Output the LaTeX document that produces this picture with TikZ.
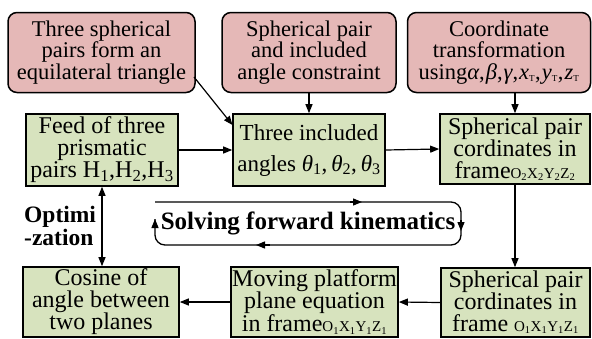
\documentclass[tikz,border=0pt]{standalone}
\usepackage{fontspec}
\setmainfont{Liberation Serif}
\usetikzlibrary{arrows.meta,calc}
\definecolor{pinkc}{RGB}{229,184,183}
\definecolor{greenc}{RGB}{215,227,190}
\newcommand{\frm}[1]{{\fontsize{15}{15}\selectfont O\textsubscript{#1}X\textsubscript{#1}Y\textsubscript{#1}Z\textsubscript{#1}}}
\begin{document}
\begin{tikzpicture}[x=1pt,y=-1pt,
  pinkbox/.style={draw, line width=1.5pt, rounded corners=9pt, fill=pinkc, align=center, inner sep=0pt, minimum height=80pt, font=\fontsize{22.5}{21.5}\selectfont},
  greenbox/.style={draw, line width=1.6pt, fill=greenc, align=center, inner sep=0pt, font=\fontsize{24}{22}\selectfont},
  arr/.style={-{Triangle[length=9pt,width=7pt]}, line width=1.2pt},
  tip/.style={-{Triangle[length=9pt,width=7pt]}, line width=1.3pt},
  loopline/.style={line width=1.3pt, rounded corners=10pt},
  boldlabel/.style={font=\fontsize{25}{23.5}\selectfont\bfseries, inner sep=0pt},
  optlabel/.style={font=\fontsize{23.5}{23.5}\selectfont\bfseries, inner sep=0pt}
]
\useasboundingbox (0,0) rectangle (592,338);

% top pink boxes
\node[pinkbox, minimum width=187pt] (A) at (101.5,52.5) {Three spherical\\pairs form an\\equilateral triangle};
\node[pinkbox, minimum width=174pt] (B) at (309,52.5) {Spherical pair\\and included\\angle constraint};
\node[pinkbox, minimum width=183pt] (C) at (499,52.5) {Coordinate\\transformation\\using\textit{α},\kern1pt\textit{β},\kern1pt\textit{γ},\kern1pt\textit{x}{\fontsize{13}{13}\selectfont\textsubscript{T}},\kern1pt\textit{y}{\fontsize{13}{13}\selectfont\textsubscript{T}},\kern1pt\textit{z}{\fontsize{13}{13}\selectfont\textsubscript{T}}};

% middle green boxes
\node[greenbox, minimum width=152pt, minimum height=72pt] (F) at (102,150) {Feed of three\\prismatic\\pairs H\textsubscript{1},H\textsubscript{2},H\textsubscript{3}};
\node[greenbox, minimum width=152pt, minimum height=72pt, font=\fontsize{23}{22}\selectfont] (T) at (309,150) {Three included\\[9pt]angles \textit{θ}\textsubscript{1},\,\textit{θ}\textsubscript{2},\,\textit{θ}\textsubscript{3}};
\node[greenbox, minimum width=150pt, minimum height=70pt] (S2) at (515,149) {Spherical pair\\cordinates in\\frame\frm{2}};

% bottom green boxes
\node[greenbox, minimum width=156pt, minimum height=70pt] (CO) at (101,302) {Cosine of\\angle between\\two planes};
\node[greenbox, minimum width=167pt, minimum height=70pt] (M) at (314.5,302) {Moving platform\\plane equation\\in frame\frm{1}};
\node[greenbox, minimum width=149pt, minimum height=69pt] (S1) at (515.5,302.5) {Spherical pair\\cordinates in\\frame \frm{1}};

% connectors
\coordinate (Aout) at (194,77);
\coordinate (Tin) at (232.5,125);
\draw[arr] (Aout) -- (Tin);
\draw[arr] (B.south) -- (T.north);
\draw[arr] (C.south -| S2.north) -- (S2.north);
\draw[arr] (F.east) -- (T.west);
\draw[arr] (T.east) -- (S2.west);
\draw[arr] (S2.south) -- (S2.south |- S1.north);
\draw[arr] (S1.west) -- (M.east);
\draw[arr] (M.west) -- (CO.east);
\draw[{Triangle[length=9pt,width=7pt]}-{Triangle[length=9pt,width=7pt]}, line width=1.2pt] (F.south) -- (F.south |- CO.north);

% optimization label
\node[optlabel, align=left, anchor=west] (opt) at (24,226) {Optimi\\-zation};

% loop
\coordinate (L0) at (155,202);
\coordinate (L1) at (461,202);
\coordinate (L2) at (461,245);
\coordinate (L3) at (155,245);
\coordinate (L4) at (155,219);
\draw[loopline] (L0) -- (L1) -- (L2) -- (L3) -- (L4);
\draw[tip] (L4) ++(0,2) -- (L4);
\draw[tip] (350,202) -- (362,202);
\draw[tip] (461,220) -- (461,231);
\draw[tip] (270,245) -- (256,245);
\node[boldlabel] (solve) at (308,223) {Solving forward kinematics};
\end{tikzpicture}
\end{document}
